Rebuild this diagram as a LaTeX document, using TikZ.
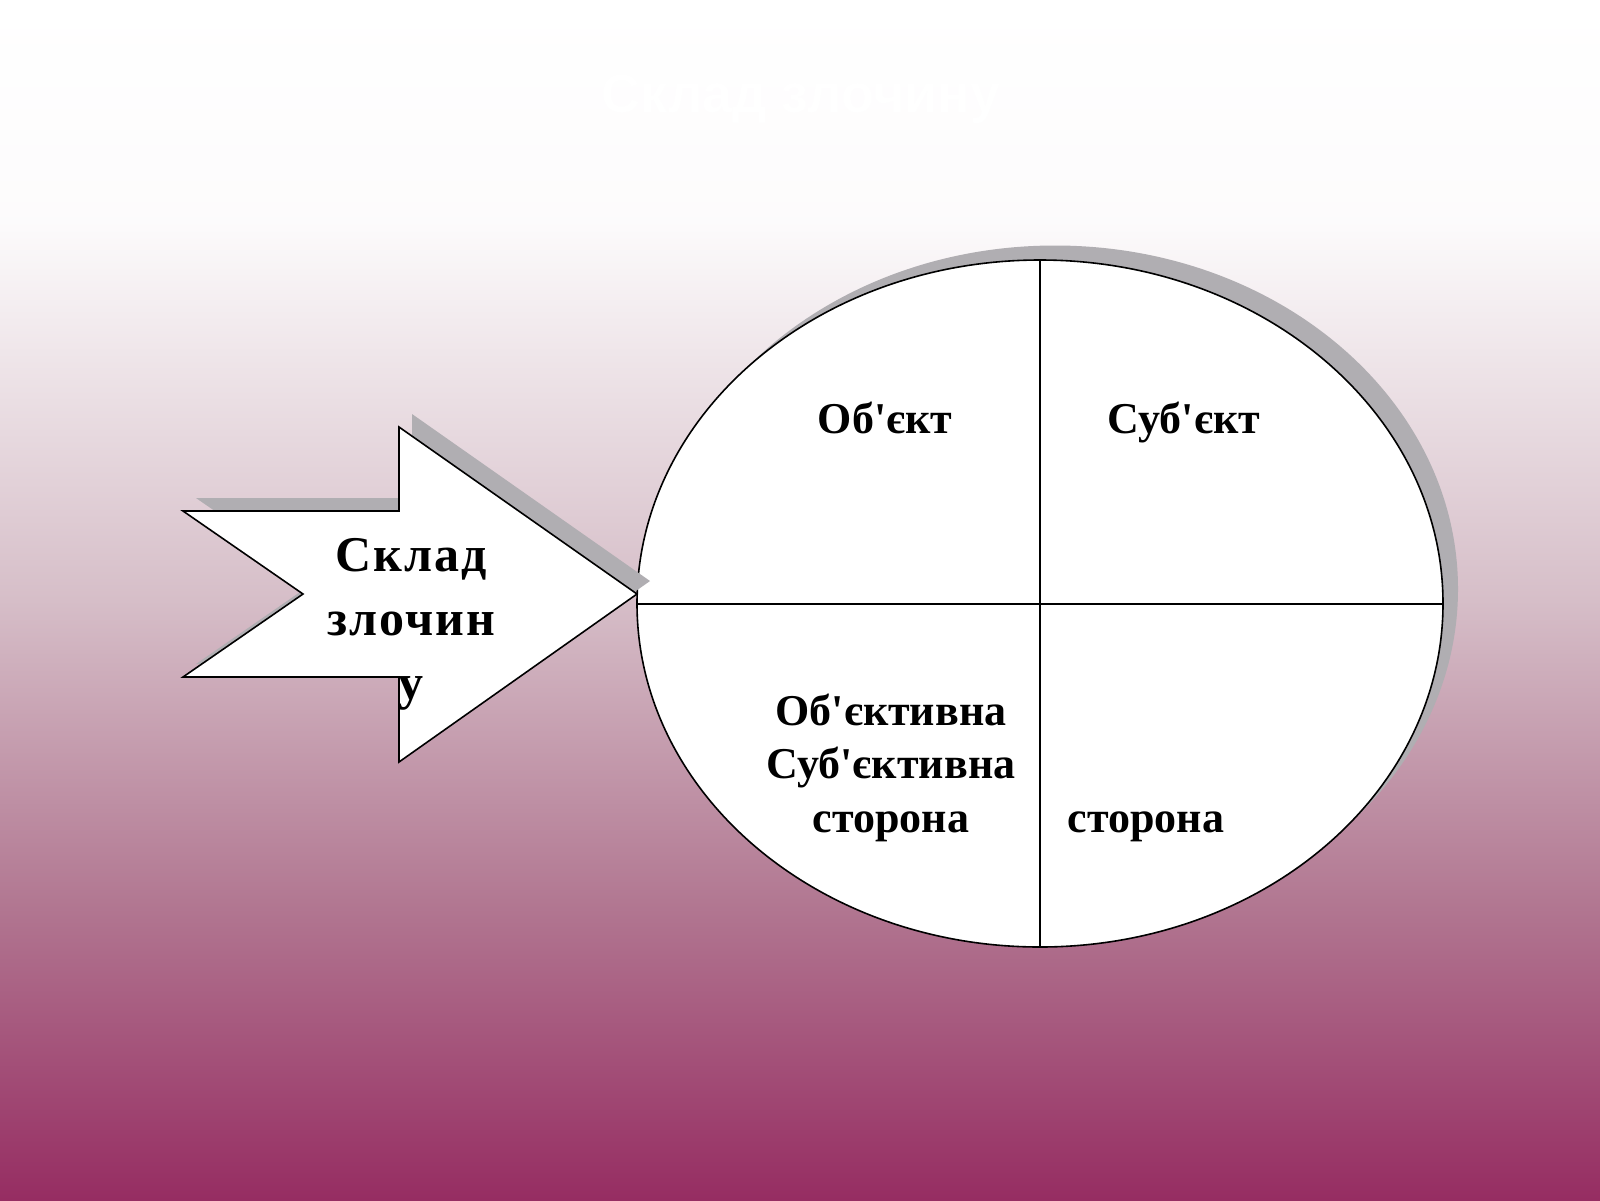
\documentclass[tikz,border=0pt]{standalone}
\usepackage{fontspec}
\newfontfamily\serifb{Liberation Serif}
\newfontfamily\serifsp{Liberation Serif}[LetterSpace=4]
\newfontfamily\titlefont{Liberation Sans}
\usetikzlibrary{shapes.geometric}
\definecolor{bgpurple}{RGB}{150,45,98}
\definecolor{shadowgray}{RGB}{176,174,178}
\pgfdeclareverticalshading{bgshade}{100bp}{rgb(0bp)=(0.588,0.176,0.384); rgb(25bp)=(0.588,0.176,0.384); rgb(37.5bp)=(0.698,0.471,0.573); rgb(50bp)=(0.839,0.745,0.784); rgb(65.8bp)=(0.99,0.985,0.988); rgb(75bp)=(1,1,1); rgb(100bp)=(1,1,1)}
\tikzset{
  shapeline/.style={draw=black,line width=1.6pt},
  divline/.style={draw=black,line width=2pt},
  shadowfill/.style={fill=shadowgray,draw=none},
  quadtext/.style={font=\serifb\bfseries\fontsize{44}{53.5}\selectfont,align=center,inner sep=0pt,anchor=base},
  arrowtext/.style={font=\serifsp\bfseries\fontsize{50}{64}\selectfont,align=center,inner sep=0pt,anchor=base},
}
\begin{document}
\begin{tikzpicture}[x=1pt,y=-1pt]
\useasboundingbox (0,0) rectangle (1600,1200);
% background
\shade[shading=bgshade] (0,0) rectangle (1600,1200);
% title
\node[text=white,font=\titlefont\bfseries\fontsize{54}{60}\selectfont,anchor=base,inner sep=0pt] (title) at (801,112) {Склад злочину};
% ellipse shadow
\fill[shadowfill] (1055,589) ellipse [x radius=403pt, y radius=343.5pt];
% ellipse
\node[ellipse,fill=white,shapeline,minimum width=806pt,minimum height=687pt,inner sep=0pt] (E) at (1040,603.5) {};
\draw[divline] (E.north) -- (E.south);
\draw[divline] (E.west) -- (E.east);
% arrow coordinates
\coordinate (a1) at (183,511);
\coordinate (a2) at (303,594);
\coordinate (a3) at (183,677);
\coordinate (a4) at (399,677);
\coordinate (a5) at (399,762);
\coordinate (a6) at (637,594);
\coordinate (a7) at (399,427);
\coordinate (a8) at (399,511);
% arrow shadow
\fill[shadowfill] ([shift={(13,-13)}]a1) -- ([shift={(13,-13)}]a2) -- ([shift={(13,-13)}]a3) -- ([shift={(13,-13)}]a4) -- ([shift={(13,-13)}]a5) -- ([shift={(13,-13)}]a6) -- ([shift={(13,-13)}]a7) -- ([shift={(13,-13)}]a8) -- cycle;
% arrow
\filldraw[fill=white,shapeline,line join=miter] (a1) -- (a2) -- (a3) -- (a4) -- (a5) -- (a6) -- (a7) -- (a8) -- cycle;
\node[arrowtext] (at) at (411,699) {Склад\\злочин\\у};
% quadrant texts
\node[quadtext] (q1) at (885,433) {Об'єкт};
\node[quadtext] (q2) at (1184,433) {Суб'єкт};
\node[quadtext] (q3) at (891,832) {Об'єктивна\\Суб'єктивна\\сторона};
\node[quadtext] (q4) at (1146,832) {сторона};
\end{tikzpicture}
\end{document}
